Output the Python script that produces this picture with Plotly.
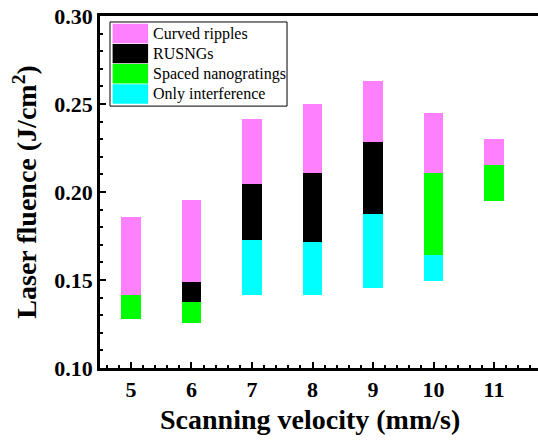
import plotly.graph_objects as go

velocities = [5, 6, 7, 8, 9, 10, 11]

curved_x = [5, 6, 7, 8, 9, 10, 11]
curved_low = [0.1414, 0.1486, 0.2048, 0.2107, 0.2283, 0.2107, 0.2154]
curved_high = [0.1857, 0.1957, 0.2413, 0.2500, 0.2631, 0.2451, 0.2300]

rusng_x = [6, 7, 8, 9]
rusng_low = [0.1373, 0.1725, 0.1715, 0.1876]
rusng_high = [0.1486, 0.2048, 0.2107, 0.2283]

spaced_x = [5, 6, 10, 11]
spaced_low = [0.1280, 0.1257, 0.1643, 0.1948]
spaced_high = [0.1414, 0.1373, 0.2107, 0.2154]

interf_x = [7, 8, 9, 10]
interf_low = [0.1416, 0.1416, 0.1452, 0.1492]
interf_high = [0.1725, 0.1715, 0.1876, 0.1643]

series = [
    ("Curved ripples", "#FF80FF", curved_x, curved_low, curved_high),
    ("RUSNGs", "#000000", rusng_x, rusng_low, rusng_high),
    ("Spaced nanogratings", "#00FF00", spaced_x, spaced_low, spaced_high),
    ("Only interference", "#00FFFF", interf_x, interf_low, interf_high),
]

FONT = "Times New Roman, Liberation Serif, serif"
fig = go.Figure()
for name, color, xs, lo, hi in series:
    fig.add_trace(go.Bar(
        x=xs, base=lo, y=[h - l for h, l in zip(hi, lo)], name=name,
        marker=dict(color=color, line=dict(width=0)), width=0.33,
        showlegend=False,
    ))

# custom legend (large swatches like the original)
lx0, lx1 = 0.0228, 0.427
ly1, ly0 = 0.983, 0.744
fig.add_shape(type="rect", xref="paper", yref="paper", x0=lx0, x1=lx1, y0=ly0, y1=ly1,
              line=dict(color="black", width=1), fillcolor="white", layer="above")
rowh = (ly1 - ly0 - 0.01) / 4
for i, (name, color, *_rest) in enumerate(series):
    top = ly1 - 0.005 - i * rowh
    fig.add_shape(type="rect", xref="paper", yref="paper",
                  x0=lx0 + 0.006, x1=lx0 + 0.087, y0=top - rowh + 0.002, y1=top,
                  line=dict(width=0), fillcolor=color, layer="above")
    fig.add_annotation(xref="paper", yref="paper", x=lx0 + 0.094, y=top - rowh / 2,
                       text=name, showarrow=False, xanchor="left", yanchor="middle",
                       font=dict(family=FONT, size=16, color="black"))

# axis titles
fig.add_annotation(xref="paper", yref="paper", x=0.4795, y=-0.145,
                   text="<b>Scanning velocity (mm/s)</b>", showarrow=False,
                   xanchor="center", yanchor="middle",
                   font=dict(family=FONT, size=28, color="black"))
fig.add_annotation(xref="paper", yref="paper", x=-0.172, y=0.5,
                   text="<b>Laser fluence (J/cm<sup>2</sup>)</b>", showarrow=False,
                   xanchor="center", yanchor="middle", textangle=-90,
                   font=dict(family=FONT, size=28, color="black"))

fig.update_layout(
    width=538, height=443,
    margin=dict(l=100, r=0, t=16, b=75),
    plot_bgcolor="white", paper_bgcolor="white",
    barmode="overlay", bargap=0,
    font=dict(family=FONT, color="black"),
)
fig.update_xaxes(
    range=[4.488, 11.727], tickmode="linear", tick0=5, dtick=1,
    ticks="inside", ticklen=6, tickwidth=2, tickcolor="black",
    showline=True, linewidth=2.5, linecolor="black", mirror=True,
    showgrid=False, zeroline=False,
    minor=dict(dtick=0.2, ticks="inside", ticklen=3, tickwidth=1.5, tickcolor="black"),
    tickfont=dict(family=FONT, size=22, color="black", weight="bold"),
)
fig.update_yaxes(
    range=[0.10, 0.30], tickmode="linear", tick0=0.10, dtick=0.05, tickformat=".2f",
    ticks="inside", ticklen=6, tickwidth=2, tickcolor="black",
    showline=True, linewidth=2.5, linecolor="black", mirror=False,
    showgrid=False, zeroline=False,
    minor=dict(dtick=0.01, ticks="inside", ticklen=3, tickwidth=1.5, tickcolor="black"),
    tickfont=dict(family=FONT, size=22, color="black", weight="bold"),
)
fig.write_html("out.html")
